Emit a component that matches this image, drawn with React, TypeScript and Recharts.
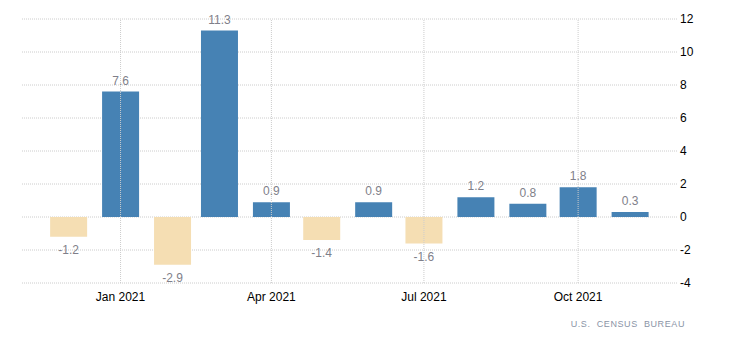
import React from 'react';
import { BarChart, Bar, XAxis, YAxis, CartesianGrid, Cell, LabelList, ReferenceLine } from 'recharts';

// months shown (first day of each month)
const months = ['2020-12', '2021-01', '2021-02', '2021-03', '2021-04', '2021-05', '2021-06', '2021-07', '2021-08', '2021-09', '2021-10', '2021-11'];
const values = [-1.2, 7.6, -2.9, 11.3, 0.9, -1.4, 0.9, -1.6, 1.2, 0.8, 1.8, 0.3];
const xTickMonths = ['2021-01', '2021-04', '2021-07', '2021-10'];
const xTickLabels = ['Jan 2021', 'Apr 2021', 'Jul 2021', 'Oct 2021'];
const yTicks = [-4, -2, 0, 2, 4, 6, 8, 10, 12];

const DAY = 86400000;
const BASE = Date.UTC(2021, 0, 1);
const toDay = (m: string) => {
  const [y, mo] = m.split('-').map(Number);
  return (Date.UTC(y, mo - 1, 1) - BASE) / DAY;
};

const chartData = months.map((m, i) => ({ day: toDay(m), value: values[i] }));
const tickDays = xTickMonths.map(toDay);
const xDomain = [-58.8, 332];

const posColor = '#4682B4';
const negColor = '#F5DEB3';
const gridColor = '#cccccc';
const font = '"Liberation Sans", Arial, sans-serif';

const ValueLabel = (props: any) => {
  const { x, y, width, height, value } = props;
  const neg = value < 0;
  const cx = x + width / 2;
  const top = Math.min(y, y + height);
  const bottom = Math.max(y, y + height);
  return (
    <text
      x={cx}
      y={neg ? bottom + 14 : top - 7}
      textAnchor="middle"
      dominantBaseline={neg ? 'middle' : 'auto'}
      fill="#7f7f8a"
      fontSize={12}
      fontFamily={font}
    >
      {value}
    </text>
  );
};

const App: React.FC = () => {
  return (
    <div style={{ position: 'absolute', left: 0, top: 0, width: 730, height: 352, background: '#fff' }}>
      <BarChart
        width={730}
        height={352}
        data={chartData}
        margin={{ top: 19, right: 0, left: 22, bottom: 0 }}
      >
        <CartesianGrid stroke={gridColor} strokeDasharray="1 1" vertical={false} />
        {tickDays.map((d) => (
          <ReferenceLine key={d} x={d} stroke={gridColor} strokeDasharray="1 1" />
        ))}
        <XAxis
          dataKey="day"
          type="number"
          domain={xDomain}
          ticks={tickDays}
          tickFormatter={(v: number) => xTickLabels[tickDays.indexOf(v)] ?? ''}
          axisLine={false}
          tickLine={false}
          tickSize={0}
          tickMargin={9}
          height={69}
          allowDataOverflow
          tick={{ fill: '#000', fontSize: 12, fontFamily: font }}
        />
        <YAxis
          orientation="right"
          domain={[-4, 12]}
          ticks={yTicks}
          axisLine={false}
          tickLine={false}
          tickSize={0}
          tickMargin={3}
          width={53}
          interval={0}
          tick={{ fill: '#000', fontSize: 12, fontFamily: font, textAnchor: 'start' }}
        />
        <Bar dataKey="value" barSize={37} isAnimationActive={false}>
          {chartData.map((d, i) => (
            <Cell key={i} fill={d.value < 0 ? negColor : posColor} />
          ))}
          <LabelList dataKey="value" content={<ValueLabel />} />
        </Bar>
        <text
          x={685}
          y={325}
          textAnchor="end"
          dominantBaseline="middle"
          fill="#8a94a6"
          fontSize={9}
          fontFamily={font}
          letterSpacing={0.6}
          wordSpacing={3}
        >
          U.S. CENSUS BUREAU
        </text>
      </BarChart>
    </div>
  );
};

export default App;
